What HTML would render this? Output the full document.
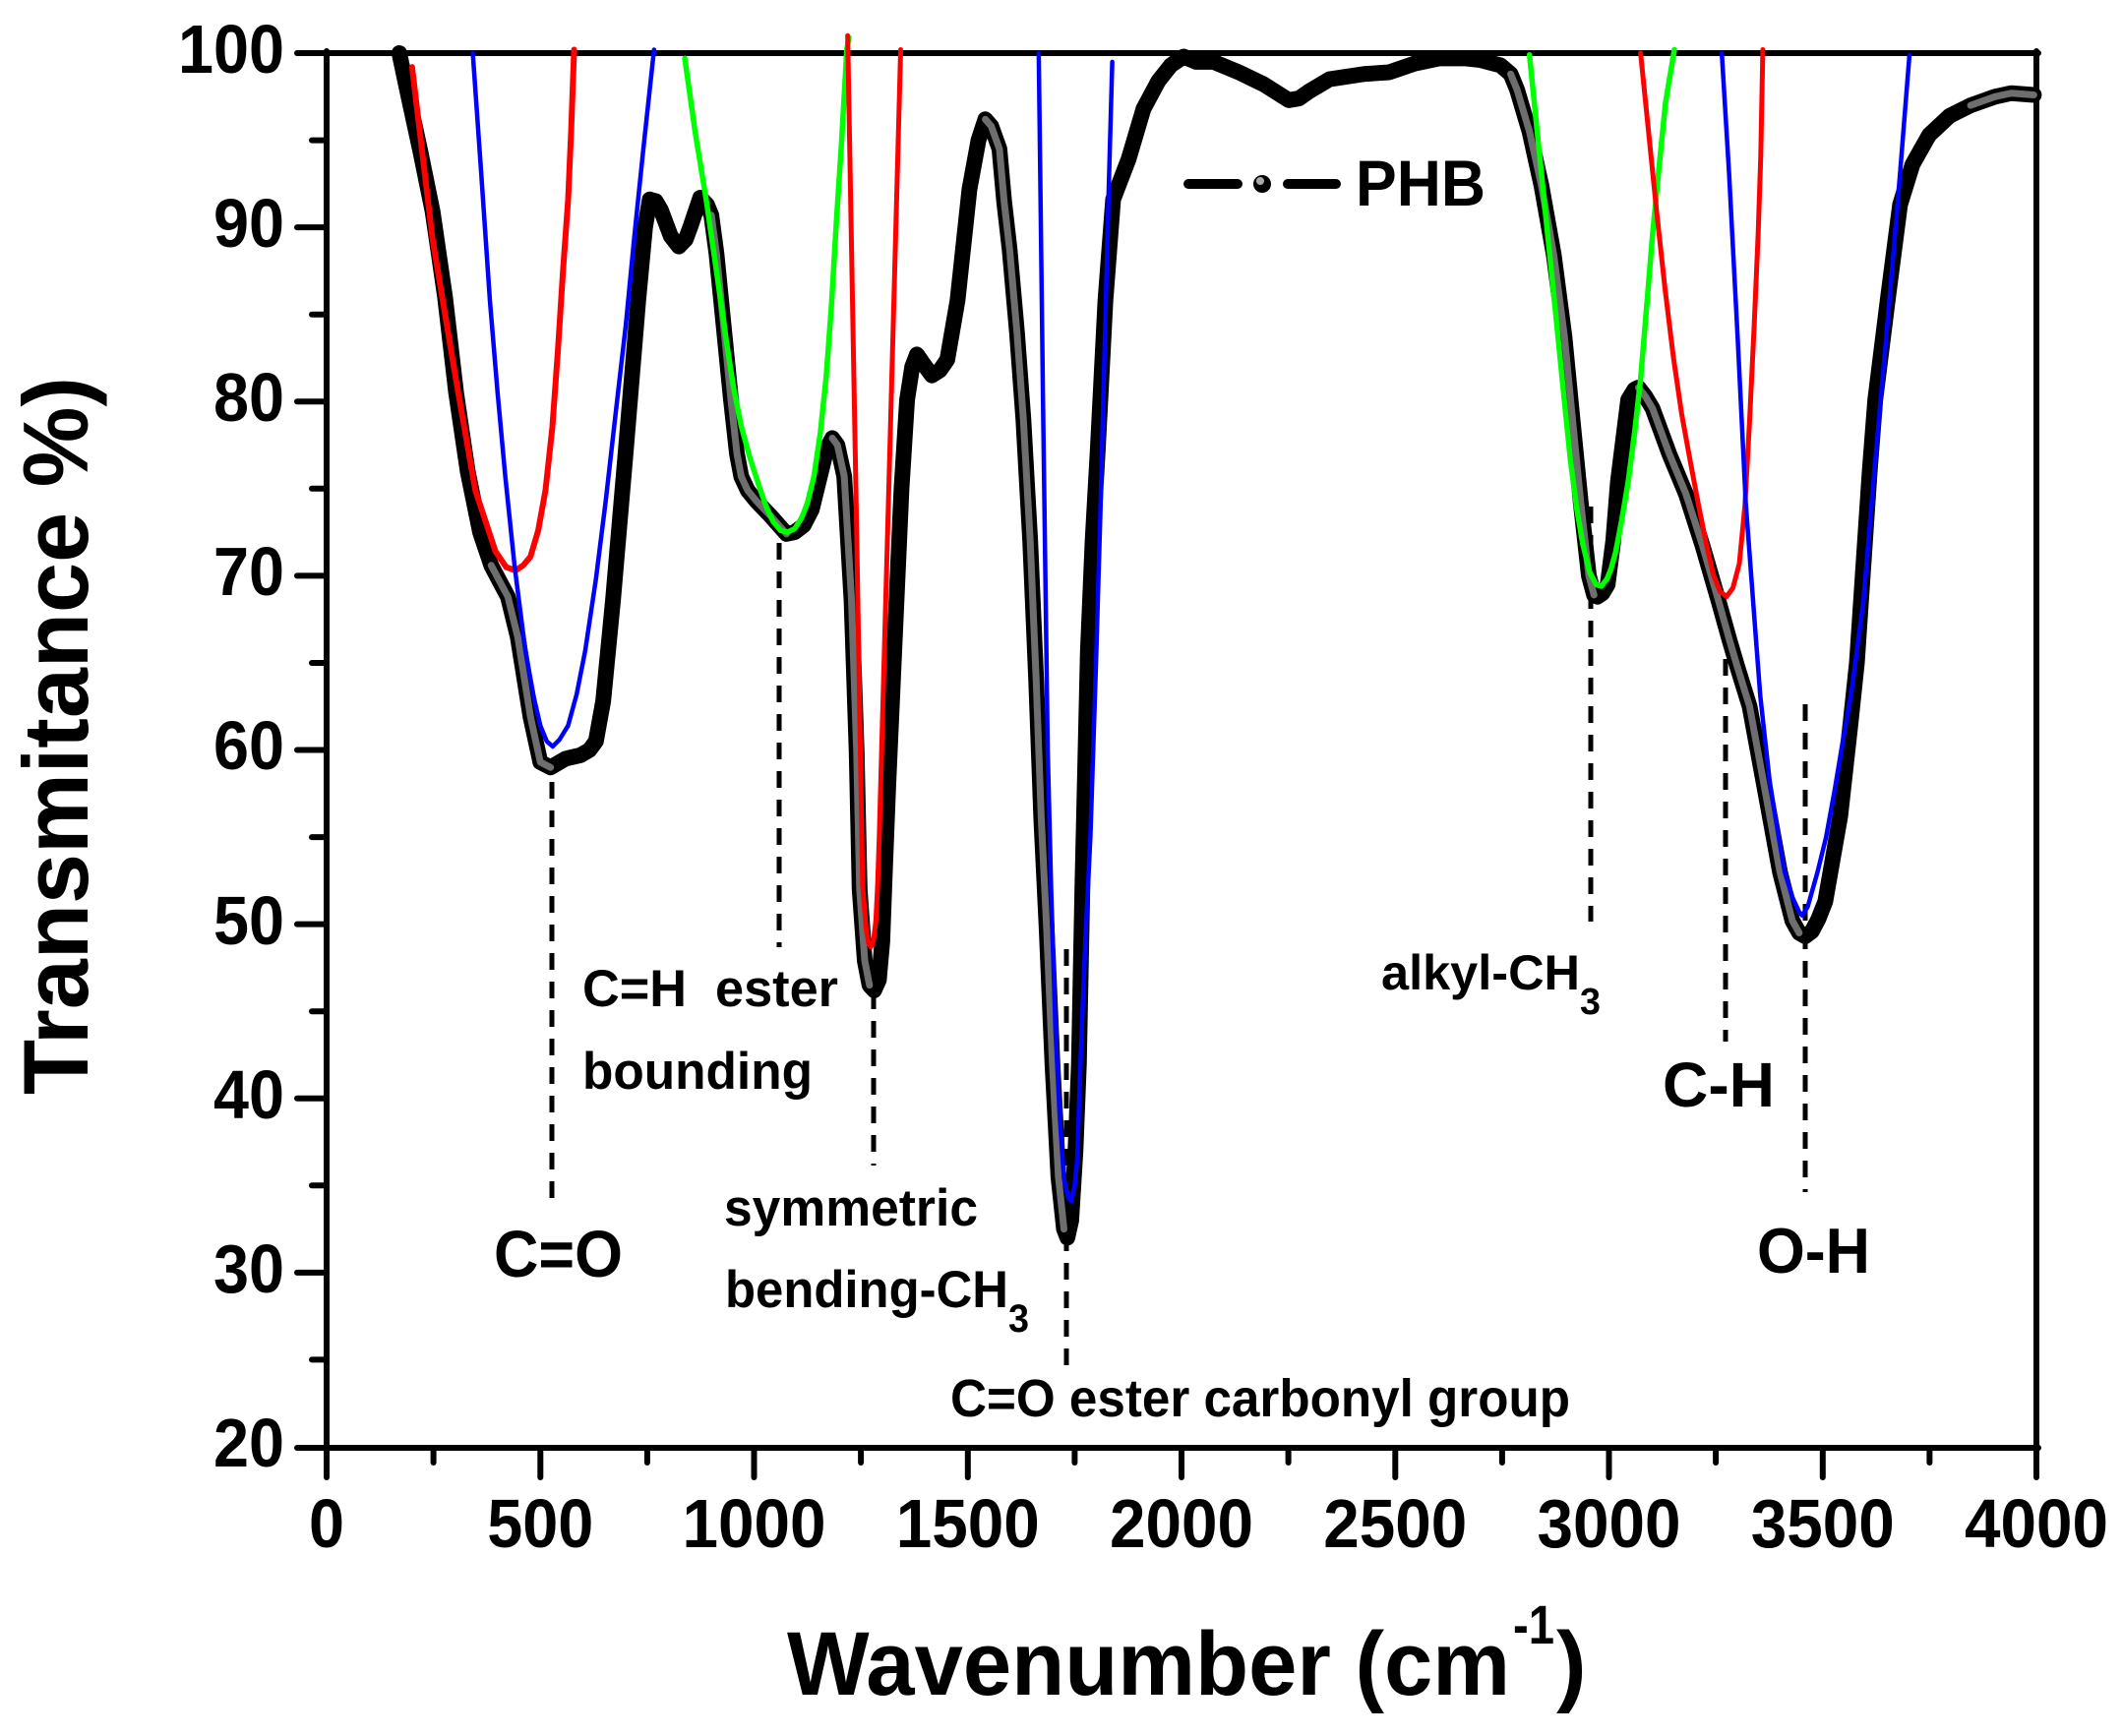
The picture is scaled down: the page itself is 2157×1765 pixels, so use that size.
<!DOCTYPE html>
<html><head><meta charset="utf-8"><style>
html,body{margin:0;padding:0;background:#fff;}
svg{display:block;}
text{font-family:"Liberation Sans",Arial,sans-serif;font-weight:bold;fill:#000;}
</style></head><body>
<svg width="2157" height="1765" viewBox="0 0 2157 1765" xmlns="http://www.w3.org/2000/svg">
<rect x="0" y="0" width="2157" height="1765" fill="#fff"/>

<!-- frame -->
<g stroke="#000" stroke-width="6" fill="none" stroke-linecap="round">
<line x1="332" y1="52" x2="332" y2="1502"/>
<line x1="302" y1="1472" x2="2072" y2="1472"/>
<line x1="302" y1="54" x2="2072" y2="54"/>
<line x1="2070" y1="52" x2="2070" y2="1502"/>
<line x1="302" y1="231.1" x2="332" y2="231.1"/>
<line x1="302" y1="408.3" x2="332" y2="408.3"/>
<line x1="302" y1="585.4" x2="332" y2="585.4"/>
<line x1="302" y1="762.5" x2="332" y2="762.5"/>
<line x1="302" y1="939.6" x2="332" y2="939.6"/>
<line x1="302" y1="1116.8" x2="332" y2="1116.8"/>
<line x1="302" y1="1293.9" x2="332" y2="1293.9"/>
<line x1="317" y1="142.6" x2="332" y2="142.6"/>
<line x1="317" y1="319.7" x2="332" y2="319.7"/>
<line x1="317" y1="496.8" x2="332" y2="496.8"/>
<line x1="317" y1="674.0" x2="332" y2="674.0"/>
<line x1="317" y1="851.1" x2="332" y2="851.1"/>
<line x1="317" y1="1028.2" x2="332" y2="1028.2"/>
<line x1="317" y1="1205.3" x2="332" y2="1205.3"/>
<line x1="317" y1="1382.4" x2="332" y2="1382.4"/>
<line x1="549.3" y1="1472" x2="549.3" y2="1502"/>
<line x1="766.5" y1="1472" x2="766.5" y2="1502"/>
<line x1="983.8" y1="1472" x2="983.8" y2="1502"/>
<line x1="1201" y1="1472" x2="1201" y2="1502"/>
<line x1="1418.3" y1="1472" x2="1418.3" y2="1502"/>
<line x1="1635.5" y1="1472" x2="1635.5" y2="1502"/>
<line x1="1852.8" y1="1472" x2="1852.8" y2="1502"/>
<line x1="440.6" y1="1472" x2="440.6" y2="1487"/>
<line x1="657.9" y1="1472" x2="657.9" y2="1487"/>
<line x1="875.1" y1="1472" x2="875.1" y2="1487"/>
<line x1="1092.4" y1="1472" x2="1092.4" y2="1487"/>
<line x1="1309.6" y1="1472" x2="1309.6" y2="1487"/>
<line x1="1526.9" y1="1472" x2="1526.9" y2="1487"/>
<line x1="1744.1" y1="1472" x2="1744.1" y2="1487"/>
<line x1="1961.4" y1="1472" x2="1961.4" y2="1487"/>
</g>

<!-- y tick labels -->
<g font-size="70" text-anchor="end">
<text x="289" y="74" textLength="108" lengthAdjust="spacingAndGlyphs">100</text>
<text x="289" y="251" textLength="72" lengthAdjust="spacingAndGlyphs">90</text>
<text x="289" y="428" textLength="72" lengthAdjust="spacingAndGlyphs">80</text>
<text x="289" y="605" textLength="72" lengthAdjust="spacingAndGlyphs">70</text>
<text x="289" y="782" textLength="72" lengthAdjust="spacingAndGlyphs">60</text>
<text x="289" y="960" textLength="72" lengthAdjust="spacingAndGlyphs">50</text>
<text x="289" y="1137" textLength="72" lengthAdjust="spacingAndGlyphs">40</text>
<text x="289" y="1314" textLength="72" lengthAdjust="spacingAndGlyphs">30</text>
<text x="289" y="1491" textLength="72" lengthAdjust="spacingAndGlyphs">20</text>
</g>
<!-- x tick labels -->
<g font-size="70" text-anchor="middle">
<text x="332" y="1573" textLength="36" lengthAdjust="spacingAndGlyphs">0</text>
<text x="549.3" y="1573" textLength="108" lengthAdjust="spacingAndGlyphs">500</text>
<text x="766.5" y="1573" textLength="146" lengthAdjust="spacingAndGlyphs">1000</text>
<text x="983.8" y="1573" textLength="146" lengthAdjust="spacingAndGlyphs">1500</text>
<text x="1201" y="1573" textLength="146" lengthAdjust="spacingAndGlyphs">2000</text>
<text x="1418.3" y="1573" textLength="146" lengthAdjust="spacingAndGlyphs">2500</text>
<text x="1635.5" y="1573" textLength="146" lengthAdjust="spacingAndGlyphs">3000</text>
<text x="1852.8" y="1573" textLength="146" lengthAdjust="spacingAndGlyphs">3500</text>
<text x="2070" y="1573" textLength="146" lengthAdjust="spacingAndGlyphs">4000</text>
</g>

<!-- axis titles -->
<text transform="translate(89,748) rotate(-90)" text-anchor="middle" font-size="94" textLength="730" lengthAdjust="spacingAndGlyphs">Transmitance %)</text>
<text x="800" y="1723" font-size="92" textLength="735" lengthAdjust="spacingAndGlyphs">Wavenumber (cm</text>
<text x="1538" y="1671" font-size="56" textLength="42" lengthAdjust="spacingAndGlyphs">-1</text>
<text x="1582" y="1723" font-size="92">)</text>

<!-- dashed marker lines -->
<g stroke="#000" stroke-width="5" stroke-dasharray="17 12" fill="none">
<line x1="561" y1="795" x2="561" y2="1220"/>
<line x1="792" y1="552" x2="792" y2="963"/>
<line x1="888" y1="1009" x2="888" y2="1185"/>
<line x1="1084" y1="965" x2="1084" y2="1388"/>
<line x1="1617" y1="515" x2="1617" y2="937"/>
<line x1="1754" y1="670" x2="1754" y2="1059"/>
<line x1="1835" y1="716" x2="1835" y2="1212"/>
</g>

<!-- data in (wavenumber, T%) coordinates -->
<g transform="matrix(0.4345 0 0 -17.7125 332 1825.25)" fill="none" stroke-linejoin="round" stroke-linecap="round">
<path vector-effect="non-scaling-stroke" stroke="#000" stroke-width="16" d="M170 100 L189 97.8 219 94.4 248 90.9 277 86.0 303 80.5 330 76.0 359 72.5 385 70.6 400 69.9 424 68.8 447 66.5 477 61.9 500 59.3 524 59.0 545 59.3 559 59.5 594 59.7 615 60.0 630 60.5 647 62.8 670 68.6 700 77.2 729 85.8 745 90.0 756 91.6 770 91.5 782 91.0 805 89.5 824 88.9 840 89.3 852 90.1 874 91.7 890 91.3 900 90.7 912 88.5 923 85.8 946 80.1 960 77.0 970 75.7 985 74.9 1005 74.3 1040 73.4 1076 72.4 1095 72.5 1116 72.9 1135 73.8 1152 75.5 1170 77.3 1183 77.9 1195 77.5 1211 75.7 1228 68.6 1240 59.9 1247 52 1259 47.9 1270 46.5 1281 46.2 1292 46.8 1300 49 1306 53 1314 58 1328 65.7 1345 75 1358 80.1 1370 82.0 1381 82.7 1395 82.2 1416 81.5 1435 81.8 1452 82.4 1476 85.8 1504 92.2 1525 95.0 1541 96.2 1555 95.8 1574 94.5 1585 91.5 1598 88.7 1615 84 1630 79 1646 72 1660 64 1672 56 1684 50 1698 42 1712 35.5 1725 32.5 1733 32.0 1742 33 1752 37 1760 42 1768 52 1781 65.7 1792 72 1804 77.2 1822 85.8 1840 91.6 1876 93.9 1911 96.8 1946 98.4 1975 99.3 2005 99.8 2034 99.5 2075 99.5 2134 98.9 2193 98.2 2251 97.3 2275 97.4 2298 97.8 2346 98.5 2427 98.8 2486 98.9 2545 99.4 2604 99.7 2662 99.7 2700 99.6 2746 99.3 2770 98.8 2785 97.9 2814 95.5 2842 92.4 2871 88.4 2896 83.7 2915 78.9 2934 74.2 2953 70.0 2965 68.9 2973 68.8 2985 69.0 2997 69.5 3010 72 3021 75.4 3045 80.1 3060 80.7 3069 80.8 3085 80.3 3102 79.6 3141 77.0 3180 74.7 3218 71.8 3257 68.5 3282 66.3 3300 64.8 3329 62.5 3365 57.7 3400 53.0 3429 50.2 3445 49.5 3459 49.3 3475 49.6 3490 50.3 3506 51.3 3541 56.2 3565 61.5 3580 65 3595 70.5 3610 76 3623 80.1 3653 86.0 3681 91.3 3710 93.6 3749 95.3 3797 96.4 3846 97.0 3903 97.5 3941 97.7 3994 97.6"/>
<g stroke="#6e6e6e" stroke-width="7">
<path vector-effect="non-scaling-stroke" d="M385 70.6 L400 69.9 424 68.8 447 66.5 477 61.9 500 59.3 524 59.0"/>
<path vector-effect="non-scaling-stroke" d="M900 90.7 L912 88.5 923 85.8 946 80.1 960 77.0 970 75.7 985 74.9 1005 74.3 1040 73.4 1076 72.4"/>
<path vector-effect="non-scaling-stroke" d="M1183 77.9 L1195 77.5 1211 75.7 1228 68.6 1240 59.9 1247 52 1259 47.9 1270 46.5"/>
<path vector-effect="non-scaling-stroke" d="M1541 96.2 L1555 95.8 1574 94.5 1585 91.5 1598 88.7 1615 84 1630 79 1646 72 1660 64 1672 56 1684 50 1698 42 1712 35.5 1725 32.5"/>
<path vector-effect="non-scaling-stroke" d="M2770 98.8 L2785 97.9 2814 95.5 2842 92.4 2871 88.4 2896 83.7 2915 78.9 2934 74.2 2953 70.0 2965 68.9"/>
<path vector-effect="non-scaling-stroke" d="M3069 80.8 L3085 80.3 3102 79.6 3141 77.0 3180 74.7 3218 71.8 3257 68.5 3282 66.3 3300 64.8 3329 62.5 3365 57.7 3400 53.0 3429 50.2 3445 49.5"/>
<path vector-effect="non-scaling-stroke" d="M3846 97.0 L3903 97.5 3941 97.7 3994 97.6"/>
</g>
<path vector-effect="non-scaling-stroke" stroke="#ff0000" stroke-width="6" d="M200 99.2 L248 89.3 301 81.5 348 74.9 395 71.4 420 70.5 442 70.3 460 70.6 477 71.1 495 72.6 512 74.9 528 78.5 541 82.9 553 87.5 565 91.6 572 95.5 579 100.2"/>
<path vector-effect="non-scaling-stroke" stroke="#0000ff" stroke-width="4.5" d="M342 100 L362 93 382 85.8 400 80.5 418 75.7 440 70.5 465 65.7 485 63 500 61.4 515 60.5 529 60.2 545 60.6 565 61.4 585 63.2 605 65.7 630 69.8 653 74.3 677 79.5 700 84.4 720 89.5 741 94.5 766 100.2"/>
<path vector-effect="non-scaling-stroke" stroke="#00ff00" stroke-width="5.5" d="M838 99.7 L862 95.5 888 91.6 912 87.5 935 83.5 952 80.8 970 78.6 990 76.8 1011 75.2 1028 74.0 1045 73.1 1062 72.6 1078 72.5 1095 72.7 1111 73.3 1125 74.2 1140 75.7 1155 78.2 1169 81.5 1181 85.5 1192 90.1 1205 95 1217 100.2 1222 100.9"/>
<path vector-effect="non-scaling-stroke" stroke="#ff0000" stroke-width="5" d="M1219 101 L1240 72.6 1254 52.2 1262 49.8 1268 48.9 1273 48.7 1279 49.0 1285 50.2 1289 52.2 1293 55.1 1318 77.5 1343 100.2"/>
<path vector-effect="non-scaling-stroke" stroke="#0000ff" stroke-width="4.5" d="M1666 100 L1676 80 1687 60 1695 52 1705 44 1715 39 1725 35.4 1735 34.3 1742 34.1 1750 35 1756 36.5 1765 43 1775 49 1787 55.1 1800 65 1811 74.3 1820 83 1829 91.6 1838 99.5"/>
<path vector-effect="non-scaling-stroke" stroke="#00ff00" stroke-width="5.5" d="M2814 99.9 L2828 96.5 2842 93.1 2859 89 2876 84.9 2893 80.7 2910 76.6 2925 73.8 2939 71.8 2955 70.2 2970 69.5 2982 69.4 2995 69.8 3005 70.4 3016 71.4 3030 73.2 3045 75.4 3060 78.2 3074 81.3 3088 85.4 3102 89.6 3117 93.4 3132 97.1 3153 100.2"/>
<path vector-effect="non-scaling-stroke" stroke="#ff0000" stroke-width="5" d="M3074 100 L3093 95.4 3112 90.8 3131 86.5 3151 82.5 3170 79.3 3190 76.6 3210 74 3228 71.8 3245 70.0 3260 69.1 3275 68.8 3290 69.3 3305 70.7 3318 74 3329 78.9 3340 84.5 3349 89.6 3355 94 3360 100.2"/>
<path vector-effect="non-scaling-stroke" stroke="#0000ff" stroke-width="4.5" d="M3264 100 L3281 93.1 3301 83.7 3320 74.2 3341 67.3 3354 63.1 3376 58.2 3395 55.3 3411 53.0 3430 51.5 3445 50.7 3452 50.5 3465 51 3488 53.0 3508 55 3528 57.7 3547 60.5 3567 63.3 3595 68.5 3623 76.6 3653 84.9 3681 93.1 3703 99.9"/>
</g>

<!-- legend -->
<g stroke="#000" stroke-width="10" stroke-linecap="round">
<line x1="1208" y1="187" x2="1258" y2="187"/>
<line x1="1309" y1="187" x2="1358" y2="187"/>
</g>
<circle cx="1283" cy="187" r="9" fill="#000"/>
<circle cx="1281" cy="184" r="4" fill="#aaa"/>
<text x="1378" y="209" font-size="66" textLength="132" lengthAdjust="spacingAndGlyphs">PHB</text>

<!-- annotations -->
<text x="502" y="1298" font-size="67" textLength="131" lengthAdjust="spacingAndGlyphs">C=O</text>
<text x="592" y="1023" font-size="53" textLength="260" lengthAdjust="spacingAndGlyphs">C=H&#160; ester</text>
<text x="592" y="1107" font-size="53" textLength="234" lengthAdjust="spacingAndGlyphs">bounding</text>
<text x="736" y="1246" font-size="53" textLength="258" lengthAdjust="spacingAndGlyphs">symmetric</text>
<text x="737" y="1329" font-size="53" textLength="288" lengthAdjust="spacingAndGlyphs">bending-CH</text>
<text x="1025" y="1354" font-size="40" textLength="21" lengthAdjust="spacingAndGlyphs">3</text>
<text x="966" y="1440" font-size="54" textLength="630" lengthAdjust="spacingAndGlyphs">C=O ester carbonyl group</text>
<text x="1404" y="1006" font-size="50" textLength="202" lengthAdjust="spacingAndGlyphs">alkyl-CH</text>
<text x="1606" y="1031" font-size="38" textLength="21" lengthAdjust="spacingAndGlyphs">3</text>
<text x="1690" y="1125" font-size="64" textLength="114" lengthAdjust="spacingAndGlyphs">C-H</text>
<text x="1786" y="1294" font-size="65" textLength="115" lengthAdjust="spacingAndGlyphs">O-H</text>
</svg>
</body></html>
